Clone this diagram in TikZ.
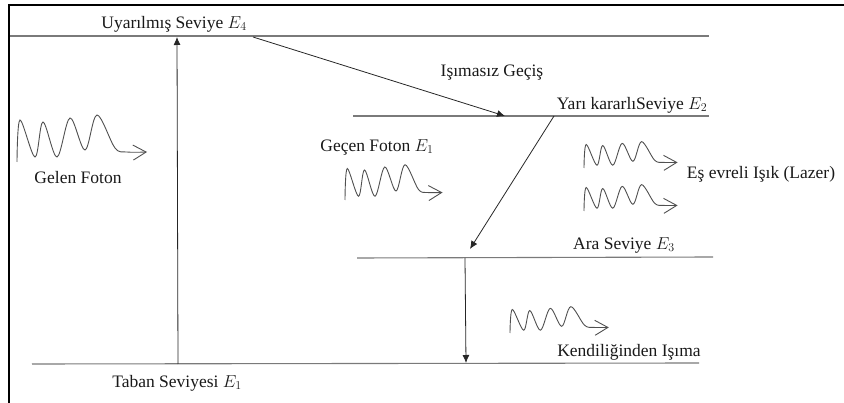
\documentclass[tikz,border=0pt]{standalone}
\usepackage{fontspec}
\setmainfont{Liberation Serif}
\usetikzlibrary{arrows.meta}
\definecolor{levelGray}{HTML}{7A7A7A}
\definecolor{waveGray}{HTML}{505050}
\tikzset{
  % energy levels: thin grey rules
  seviye/.style={draw=levelGray, line width=1.1pt},
  % transitions between levels
  gecis/.style={-{Latex[length=8pt,width=7pt]}, draw=black!85, line width=0.8pt},
  etiket/.style={font=\fontsize{17.5}{20}\selectfont, inner sep=1pt, text=black!90},
  % photon: wavy line with an open head, drawn from its lower left end
  pics/foton/.style={code={
    \draw[waveGray, line width=0.9pt, -{Straight Barb[length=13pt,width=15pt]}]
      plot[smooth, tension=0.55] coordinates {(0,0) (3,-42) (18,-5) (26,-40) (40,-5)
        (53,-44) (68,-12) (80,-47) (98,-14) (110,-10) (130,-10)};
  }},
}
\begin{document}
\begin{tikzpicture}[x=1pt,y=-1pt]
  \useasboundingbox (0,0) rectangle (844,403);
  \draw[line width=2.4pt] (9,403) -- (9,5) -- (844,5);
  % levels
  \coordinate (e4a) at (10,36);  \coordinate (e4b) at (709,36);
  \coordinate (e2a) at (353,116); \coordinate (e2b) at (709,116);
  \coordinate (e3a) at (357,258); \coordinate (e3b) at (713,257);
  \coordinate (e1a) at (32,364);  \coordinate (e1b) at (699,363);
  \foreach \a/\b in {e4a/e4b,e2a/e2b,e3a/e3b,e1a/e1b}{\draw[seviye] (\a) -- (\b);}
  % transitions
  \coordinate (p0) at (178,364); \coordinate (p1) at (177,37);
  \coordinate (q0) at (253,37);  \coordinate (q1) at (505,116);
  \coordinate (r0) at (554,116); \coordinate (r1) at (470,249);
  \coordinate (s0) at (465,258); \coordinate (s1) at (466,363);
  \foreach \a/\b in {p0/p1,q0/q1,r0/r1,s0/s1}{\draw[gecis] (\a) -- (\b);}
  % photons
  \pic at (17,162) {foton};
  \pic[scale=0.75] at (345,200) {foton};
  \pic[xscale=0.72,yscale=0.56] at (584,168) {foton};
  \pic[xscale=0.72,yscale=0.56] at (584,211) {foton};
  \pic[xscale=0.76,yscale=0.56] at (510,333) {foton};
  % labels
  \node[etiket] (uy) at (174,24)  {Uyarılmış Seviye $E_4$};
  \node[etiket] (is) at (492,73)  {Işımasız Geçiş};
  \node[etiket] (yk) at (632,105) {Yarı kararlıSeviye $E_2$};
  \node[etiket] (gc) at (377,147) {Geçen Foton $E_1$};
  \node[etiket] (gl) at (78,178)  {Gelen Foton};
  \node[etiket] (lz) at (761,174) {Eş evreli Işık (Lazer)};
  \node[etiket] (ar) at (624,245) {Ara Seviye $E_3$};
  \node[etiket] (kd) at (629,352) {Kendiliğinden Işıma};
  \node[etiket] (tb) at (177,383) {Taban Seviyesi $E_1$};
\end{tikzpicture}
\end{document}
